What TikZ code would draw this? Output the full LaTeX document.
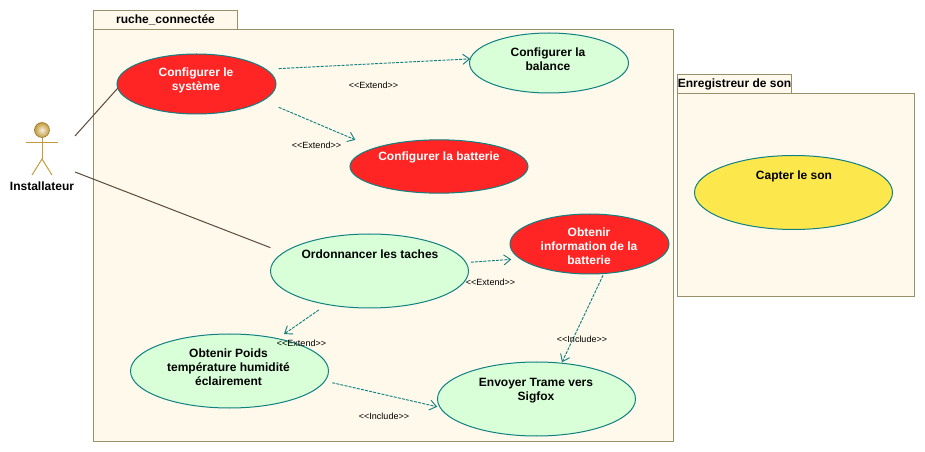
\documentclass[tikz,border=0pt]{standalone}
\usepackage{fontspec}
\setmainfont{Liberation Sans}
\usetikzlibrary{shapes.geometric,arrows.meta}

\definecolor{pkgfill}{HTML}{FFF9EC}
\definecolor{pkgline}{HTML}{9A8F6B}
\definecolor{caseline}{HTML}{108080}
\definecolor{casered}{HTML}{FF2525}
\definecolor{casegreen}{HTML}{D8FFD8}
\definecolor{caseyellow}{HTML}{FCE84D}
\definecolor{actorgold}{HTML}{C49A3A}
\definecolor{assocline}{HTML}{5A4A3A}

\tikzset{
    pkgbox/.style={draw=pkgline, fill=pkgfill, line width=0.75pt, anchor=north west, inner sep=0pt, outer sep=0pt},
    usecase/.style={draw=caseline, ellipse, line width=0.75pt, inner sep=0pt, outer sep=0pt, minimum width=148.5pt, minimum height=55.5pt},
    smallcase/.style={usecase, minimum width=119.25pt, minimum height=45pt},
    casetext/.style={font=\bfseries\fontsize{9}{10.5}\selectfont, align=center, inner sep=0pt},
    stereo/.style={font=\fontsize{6.75}{8}\selectfont, inner sep=0pt},
    assoc/.style={draw=assocline, line width=0.75pt},
    dep/.style={draw=caseline, line width=0.7pt, dash pattern=on 2.25pt off 0.9pt, -{Straight Barb[length=5pt,width=7.5pt]}},
}

\begin{document}
\begin{tikzpicture}[x=0.75pt, y=-0.75pt]

            \useasboundingbox (0,0) rectangle (925,452);

            % packages
            \node[pkgbox, minimum width=108pt, minimum height=14.25pt] (ruchetab) at (93.5,10.5) {};
            \node[pkgbox, minimum width=435pt, minimum height=309pt] (ruche) at (93.5,29.5) {};
            \node[pkgbox, minimum width=85.5pt, minimum height=14.25pt] (sontab) at (677.5,74.5) {};
            \node[pkgbox, minimum width=177.75pt, minimum height=152.25pt] (son) at (677.5,93.5) {};
            \node[casetext] (ruchename) at (165.5,19.5) {ruche\_connectée};
            \node[casetext] (sonname) at (734.5,84) {Enregistreur de son};

            % actor
            \node[circle, draw=actorgold!75!black, line width=0.4pt, shading=radial, inner color=white!85!actorgold, outer color=actorgold, minimum size=11.25pt, inner sep=0pt] (head) at (42,130) {};
            \coordinate (hip) at (42,159);
            \coordinate (armleft) at (26,143);
            \coordinate (armright) at (58,143);
            \coordinate (footleft) at (32,175);
            \coordinate (footright) at (52,175);
            \coordinate (actorup) at (75,136);
            \coordinate (actordown) at (75,172);
            \draw[actorgold, line width=0.75pt] (head) -- (hip);
            \draw[actorgold, line width=0.75pt] (armleft) -- (armright);
            \draw[actorgold, line width=0.75pt] (footleft) -- (hip) -- (footright);
            \node[casetext] (installateur) at (42,186) {Installateur};

            % use cases
            \node[smallcase, fill=casered] (systeme) at (196.5,84) {};
            \node[smallcase, fill=casegreen] (balance) at (549,63) {};
            \node[usecase, fill=casered, minimum width=133.5pt, minimum height=40pt] (batterie) at (439,166.5) {};
            \node[usecase, fill=casegreen] (ordo) at (369.5,271) {};
            \node[smallcase, fill=casered] (info) at (589.5,244) {};
            \node[usecase, fill=casegreen] (poids) at (229.5,371) {};
            \node[usecase, fill=casegreen] (trame) at (536.5,399) {};
            \node[usecase, fill=caseyellow] (capter) at (793.5,192.5) {};

            \node[casetext, text=white] (systemetxt) at (196,80) {Configurer le\\système};
            \node[casetext] (balancetxt) at (548,59) {Configurer la\\balance};
            \node[casetext, text=white] (batterietxt) at (439,157.5) {Configurer la batterie};
            \node[casetext] (ordotxt) at (370,254) {Ordonnancer les taches};
            \node[casetext, text=white] (infotxt) at (589,246) {Obtenir\\information de la\\batterie};
            \node[casetext] (poidstxt) at (228.5,367) {Obtenir Poids\\température humidité\\éclairement};
            \node[casetext] (trametxt) at (536,391) {Envoyer Trame vers\\Sigfox};
            \node[casetext] (captertxt) at (794,176.5) {Capter le son};

            % connectors
            \draw[assoc] (actorup) -- (systeme.183.6);
            \draw[assoc, shorten >=10.5pt] (actordown) -- (ordo.168);

            \draw[dep, shorten <=9.75pt] (systeme.12.7) -- (balance.177);
            \draw[dep, shorten <=13pt, shorten >=15.75pt] (systeme.-14.6) -- (batterie.164.9);
            \draw[dep, shorten <=3.75pt, shorten >=6.75pt] (ordo.5.2) -- (info.192.6);
            \draw[dep, shorten <=7.25pt, shorten >=6pt] (ordo.218.2) -- (poids.34.1);
            \draw[dep, shorten <=1.5pt, shorten >=0.75pt] (info.-64.2) -- (trame.55.8);
            \draw[dep, shorten <=5.75pt, shorten >=2.25pt] (poids.-6.9) -- (trame.185.2);

            % stereotypes
            \node[stereo] (ext1) at (373.5,85) {<{}<Extend>{}>};
            \node[stereo] (ext2) at (316.5,145) {<{}<Extend>{}>};
            \node[stereo] (ext3) at (490.5,282) {<{}<Extend>{}>};
            \node[stereo] (ext4) at (301.5,343) {<{}<Extend>{}>};
            \node[stereo] (inc1) at (582,339) {<{}<Include>{}>};
            \node[stereo] (inc2) at (384,416) {<{}<Include>{}>};

\end{tikzpicture}
\end{document}
